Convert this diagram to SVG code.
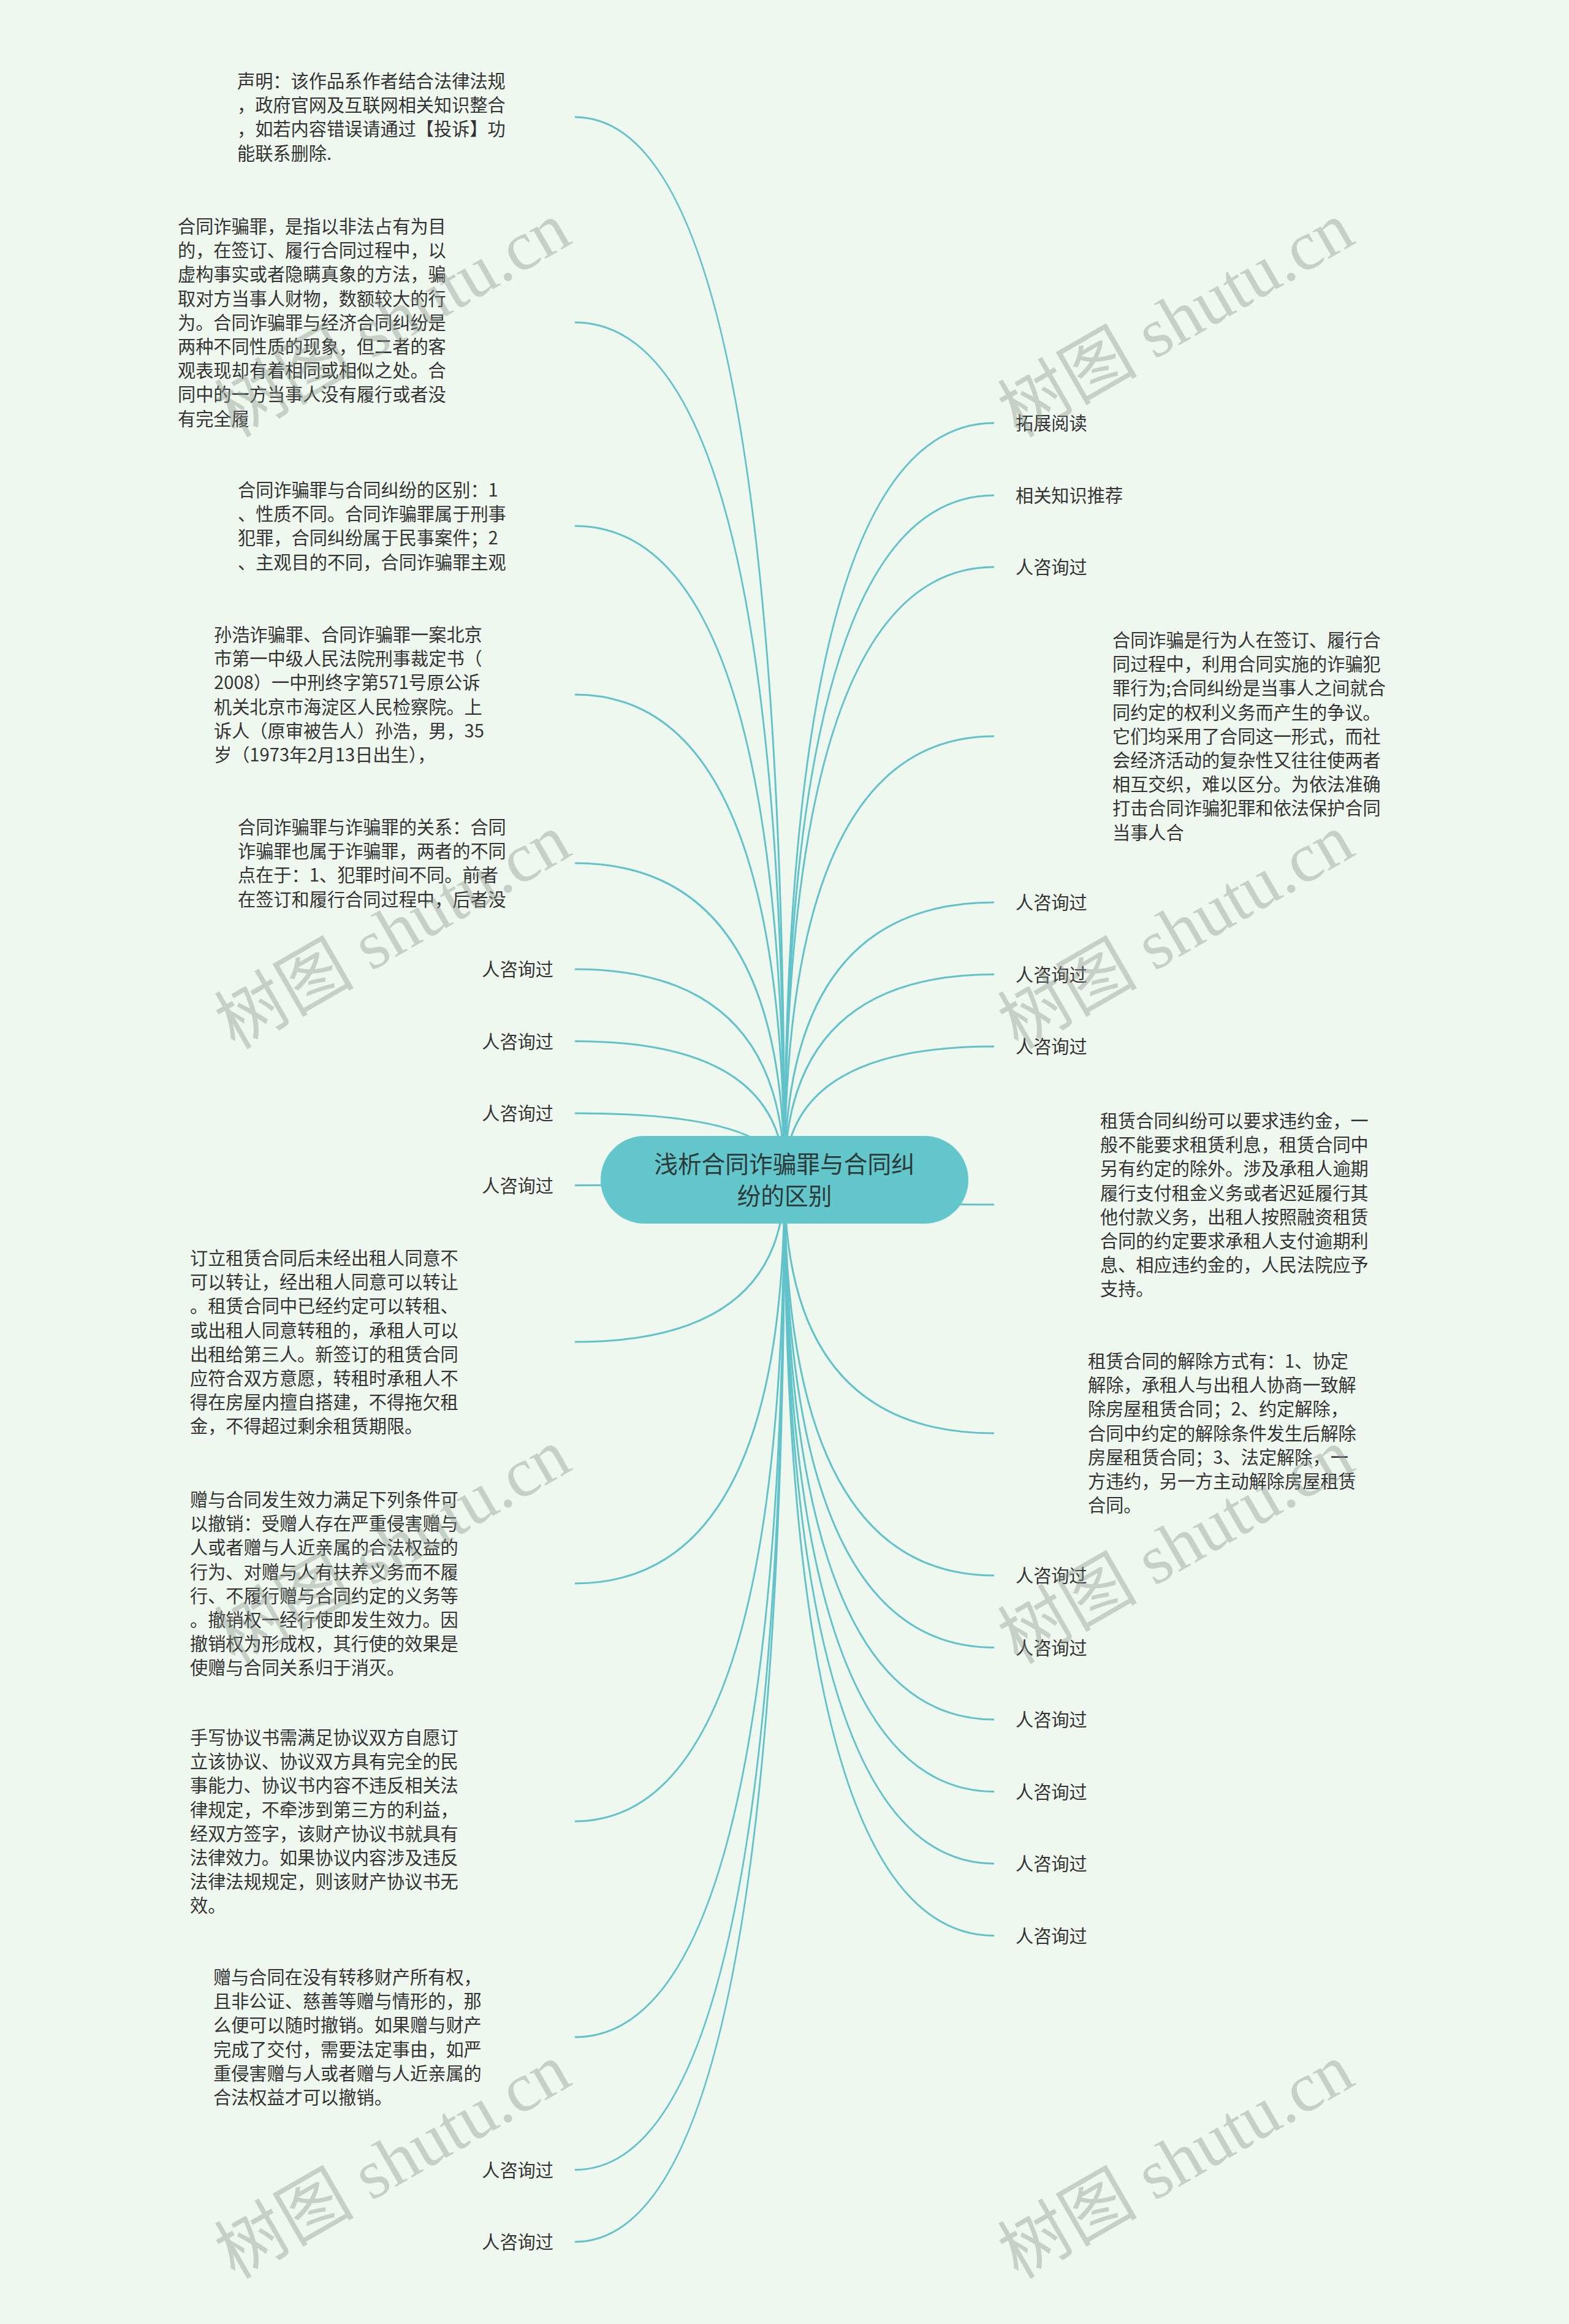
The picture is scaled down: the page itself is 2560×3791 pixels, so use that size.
<svg xmlns="http://www.w3.org/2000/svg" width="2560" height="3791" viewBox="0 0 2560 3791">
<style>
.bg{fill:#eff8ef}
.ln{fill:none;stroke:#62c2c9;stroke-width:3}
.t{font-family:"Noto Sans CJK SC","Noto Sans",sans-serif;font-size:29.2px;fill:#333333}
.te{font-family:"Noto Sans CJK SC","Noto Sans",sans-serif;font-size:29.2px;fill:#333333;text-anchor:end}
.root{fill:#62c6ca}
.rt{font-family:"Noto Sans CJK SC","Noto Sans",sans-serif;font-size:38.7px;fill:#2d3a3a;text-anchor:middle}
.wm{font-family:"Liberation Serif","Noto Sans CJK SC",serif;font-size:114px;fill:#8c968c;opacity:0.4;text-anchor:middle}
</style>
<rect class="bg" x="0" y="0" width="2560" height="3791"/>
<g id="connectors">
<path class="ln" d="M1280 1925 Q1280 191 938 191"/>
<path class="ln" d="M1280 1925 Q1280 526 938 526"/>
<path class="ln" d="M1280 1925 Q1280 858 938 858"/>
<path class="ln" d="M1280 1925 Q1280 1133 938 1133"/>
<path class="ln" d="M1280 1925 Q1280 1408 938 1408"/>
<path class="ln" d="M1280 1925 Q1280 1581 938 1581"/>
<path class="ln" d="M1280 1925 Q1280 1698.5 938 1698.5"/>
<path class="ln" d="M1280 1925 Q1280 1816 938 1816"/>
<path class="ln" d="M1280 1925 Q1280 1933.5 938 1933.5"/>
<path class="ln" d="M1280 1925 Q1280 2189 938 2189"/>
<path class="ln" d="M1280 1925 Q1280 2583 938 2583"/>
<path class="ln" d="M1280 1925 Q1280 2971 938 2971"/>
<path class="ln" d="M1280 1925 Q1280 3323 938 3323"/>
<path class="ln" d="M1280 1925 Q1280 3539.5 938 3539.5"/>
<path class="ln" d="M1280 1925 Q1280 3657 938 3657"/>
<path class="ln" d="M1280 1925 Q1280 690 1622 690"/>
<path class="ln" d="M1280 1925 Q1280 808 1622 808"/>
<path class="ln" d="M1280 1925 Q1280 925 1622 925"/>
<path class="ln" d="M1280 1925 Q1280 1201 1622 1201"/>
<path class="ln" d="M1280 1925 Q1280 1472 1622 1472"/>
<path class="ln" d="M1280 1925 Q1280 1589.5 1622 1589.5"/>
<path class="ln" d="M1280 1925 Q1280 1707 1622 1707"/>
<path class="ln" d="M1280 1925 Q1280 1965 1622 1965"/>
<path class="ln" d="M1280 1925 Q1280 2338 1622 2338"/>
<path class="ln" d="M1280 1925 Q1280 2570 1622 2570"/>
<path class="ln" d="M1280 1925 Q1280 2687.5 1622 2687.5"/>
<path class="ln" d="M1280 1925 Q1280 2805 1622 2805"/>
<path class="ln" d="M1280 1925 Q1280 2922.5 1622 2922.5"/>
<path class="ln" d="M1280 1925 Q1280 3040 1622 3040"/>
<path class="ln" d="M1280 1925 Q1280 3157.5 1622 3157.5"/>
</g>
<g id="root">
<rect class="root" x="980" y="1853" width="600" height="143" rx="71.5" ry="71.5"/>
<text class="rt" x="1280" y="1913">浅析合同诈骗罪与合同纠</text>
<text class="rt" x="1280" y="1965">纷的区别</text>
</g>
<g id="n1"><text class="t" x="387">
<tspan x="387" y="143">声明：该作品系作者结合法律法规</tspan>
<tspan x="387" y="182.2">，政府官网及互联网相关知识整合</tspan>
<tspan x="387" y="221.4">，如若内容错误请通过【投诉】功</tspan>
<tspan x="387" y="260.6">能联系删除.</tspan></text></g>
<g id="n2"><text class="t">
<tspan x="290" y="380">合同诈骗罪，是指以非法占有为目</tspan>
<tspan x="290" y="419.2">的，在签订、履行合同过程中，以</tspan>
<tspan x="290" y="458.4">虚构事实或者隐瞒真象的方法，骗</tspan>
<tspan x="290" y="497.6">取对方当事人财物，数额较大的行</tspan>
<tspan x="290" y="536.8">为。合同诈骗罪与经济合同纠纷是</tspan>
<tspan x="290" y="576">两种不同性质的现象，但二者的客</tspan>
<tspan x="290" y="615.2">观表现却有着相同或相似之处。合</tspan>
<tspan x="290" y="654.4">同中的一方当事人没有履行或者没</tspan>
<tspan x="290" y="693.6">有完全履</tspan></text></g>
<g id="n3"><text class="t">
<tspan x="388" y="810">合同诈骗罪与合同纠纷的区别：1</tspan>
<tspan x="388" y="849.2">、性质不同。合同诈骗罪属于刑事</tspan>
<tspan x="388" y="888.4">犯罪，合同纠纷属于民事案件；2</tspan>
<tspan x="388" y="927.6">、主观目的不同，合同诈骗罪主观</tspan></text></g>
<g id="n4"><text class="t">
<tspan x="349" y="1046">孙浩诈骗罪、合同诈骗罪一案北京</tspan>
<tspan x="349" y="1085.2">市第一中级人民法院刑事裁定书（</tspan>
<tspan x="349" y="1124.4">2008）一中刑终字第571号原公诉</tspan>
<tspan x="349" y="1163.6">机关北京市海淀区人民检察院。上</tspan>
<tspan x="349" y="1202.8">诉人（原审被告人）孙浩，男，35</tspan>
<tspan x="349" y="1242">岁（1973年2月13日出生），</tspan></text></g>
<g id="n5"><text class="t">
<tspan x="388" y="1360">合同诈骗罪与诈骗罪的关系：合同</tspan>
<tspan x="388" y="1399.2">诈骗罪也属于诈骗罪，两者的不同</tspan>
<tspan x="388" y="1438.4">点在于：1、犯罪时间不同。前者</tspan>
<tspan x="388" y="1477.6">在签订和履行合同过程中，后者没</tspan></text></g>
<g id="n6"><text class="te" x="903" y="1592">人咨询过</text></g>
<g id="n7"><text class="te" x="903" y="1709.5">人咨询过</text></g>
<g id="n8"><text class="te" x="903" y="1827">人咨询过</text></g>
<g id="n9"><text class="te" x="903" y="1944.5">人咨询过</text></g>
<g id="n10"><text class="t">
<tspan x="310" y="2063">订立租赁合同后未经出租人同意不</tspan>
<tspan x="310" y="2102.2">可以转让，经出租人同意可以转让</tspan>
<tspan x="310" y="2141.4">。租赁合同中已经约定可以转租、</tspan>
<tspan x="310" y="2180.6">或出租人同意转租的，承租人可以</tspan>
<tspan x="310" y="2219.8">出租给第三人。新签订的租赁合同</tspan>
<tspan x="310" y="2259">应符合双方意愿，转租时承租人不</tspan>
<tspan x="310" y="2298.2">得在房屋内擅自搭建，不得拖欠租</tspan>
<tspan x="310" y="2337.4">金，不得超过剩余租赁期限。</tspan></text></g>
<g id="n11"><text class="t">
<tspan x="310" y="2457">赠与合同发生效力满足下列条件可</tspan>
<tspan x="310" y="2496.2">以撤销：受赠人存在严重侵害赠与</tspan>
<tspan x="310" y="2535.4">人或者赠与人近亲属的合法权益的</tspan>
<tspan x="310" y="2574.6">行为、对赠与人有扶养义务而不履</tspan>
<tspan x="310" y="2613.8">行、不履行赠与合同约定的义务等</tspan>
<tspan x="310" y="2653">。撤销权一经行使即发生效力。因</tspan>
<tspan x="310" y="2692.2">撤销权为形成权，其行使的效果是</tspan>
<tspan x="310" y="2731.4">使赠与合同关系归于消灭。</tspan></text></g>
<g id="n12"><text class="t">
<tspan x="310" y="2845">手写协议书需满足协议双方自愿订</tspan>
<tspan x="310" y="2884.2">立该协议、协议双方具有完全的民</tspan>
<tspan x="310" y="2923.4">事能力、协议书内容不违反相关法</tspan>
<tspan x="310" y="2962.6">律规定，不牵涉到第三方的利益，</tspan>
<tspan x="310" y="3001.8">经双方签字，该财产协议书就具有</tspan>
<tspan x="310" y="3041">法律效力。如果协议内容涉及违反</tspan>
<tspan x="310" y="3080.2">法律法规规定，则该财产协议书无</tspan>
<tspan x="310" y="3119.4">效。</tspan></text></g>
<g id="n13"><text class="t">
<tspan x="348" y="3236">赠与合同在没有转移财产所有权，</tspan>
<tspan x="348" y="3275.2">且非公证、慈善等赠与情形的，那</tspan>
<tspan x="348" y="3314.4">么便可以随时撤销。如果赠与财产</tspan>
<tspan x="348" y="3353.6">完成了交付，需要法定事由，如严</tspan>
<tspan x="348" y="3392.8">重侵害赠与人或者赠与人近亲属的</tspan>
<tspan x="348" y="3432">合法权益才可以撤销。</tspan></text></g>
<g id="n14"><text class="te" x="903" y="3550.5">人咨询过</text></g>
<g id="n15"><text class="te" x="903" y="3668">人咨询过</text></g>
<g id="r1"><text class="t" x="1657" y="701">拓展阅读</text></g>
<g id="r2"><text class="t" x="1657" y="819">相关知识推荐</text></g>
<g id="r3"><text class="t" x="1657" y="936">人咨询过</text></g>
<g id="r4"><text class="t">
<tspan x="1815" y="1055">合同诈骗是行为人在签订、履行合</tspan>
<tspan x="1815" y="1094.2">同过程中，利用合同实施的诈骗犯</tspan>
<tspan x="1815" y="1133.4">罪行为;合同纠纷是当事人之间就合</tspan>
<tspan x="1815" y="1172.6">同约定的权利义务而产生的争议。</tspan>
<tspan x="1815" y="1211.8">它们均采用了合同这一形式，而社</tspan>
<tspan x="1815" y="1251">会经济活动的复杂性又往往使两者</tspan>
<tspan x="1815" y="1290.2">相互交织，难以区分。为依法准确</tspan>
<tspan x="1815" y="1329.4">打击合同诈骗犯罪和依法保护合同</tspan>
<tspan x="1815" y="1368.6">当事人合</tspan></text></g>
<g id="r5"><text class="t" x="1657" y="1483">人咨询过</text></g>
<g id="r6"><text class="t" x="1657" y="1600.5">人咨询过</text></g>
<g id="r7"><text class="t" x="1657" y="1718">人咨询过</text></g>
<g id="r8"><text class="t">
<tspan x="1795" y="1839">租赁合同纠纷可以要求违约金，一</tspan>
<tspan x="1795" y="1878.2">般不能要求租赁利息，租赁合同中</tspan>
<tspan x="1795" y="1917.4">另有约定的除外。涉及承租人逾期</tspan>
<tspan x="1795" y="1956.6">履行支付租金义务或者迟延履行其</tspan>
<tspan x="1795" y="1995.8">他付款义务，出租人按照融资租赁</tspan>
<tspan x="1795" y="2035">合同的约定要求承租人支付逾期利</tspan>
<tspan x="1795" y="2074.2">息、相应违约金的，人民法院应予</tspan>
<tspan x="1795" y="2113.4">支持。</tspan></text></g>
<g id="r9"><text class="t">
<tspan x="1775" y="2231">租赁合同的解除方式有：1、协定</tspan>
<tspan x="1775" y="2270.2">解除，承租人与出租人协商一致解</tspan>
<tspan x="1775" y="2309.4">除房屋租赁合同；2、约定解除，</tspan>
<tspan x="1775" y="2348.6">合同中约定的解除条件发生后解除</tspan>
<tspan x="1775" y="2387.8">房屋租赁合同；3、法定解除，一</tspan>
<tspan x="1775" y="2427">方违约，另一方主动解除房屋租赁</tspan>
<tspan x="1775" y="2466.2">合同。</tspan></text></g>
<g id="r10"><text class="t" x="1657" y="2581">人咨询过</text></g>
<g id="r11"><text class="t" x="1657" y="2698.5">人咨询过</text></g>
<g id="r12"><text class="t" x="1657" y="2816">人咨询过</text></g>
<g id="r13"><text class="t" x="1657" y="2933.5">人咨询过</text></g>
<g id="r14"><text class="t" x="1657" y="3051">人咨询过</text></g>
<g id="r15"><text class="t" x="1657" y="3168.5">人咨询过</text></g>
<g id="watermarks">
<text class="wm" transform="translate(660 555) rotate(-30)">树图 shutu.cn</text>
<text class="wm" transform="translate(1938 555) rotate(-30)">树图 shutu.cn</text>
<text class="wm" transform="translate(660 1553) rotate(-30)">树图 shutu.cn</text>
<text class="wm" transform="translate(1938 1553) rotate(-30)">树图 shutu.cn</text>
<text class="wm" transform="translate(660 2556) rotate(-30)">树图 shutu.cn</text>
<text class="wm" transform="translate(1938 2556) rotate(-30)">树图 shutu.cn</text>
<text class="wm" transform="translate(660 3559) rotate(-30)">树图 shutu.cn</text>
<text class="wm" transform="translate(1938 3559) rotate(-30)">树图 shutu.cn</text>
</g>
</svg>
